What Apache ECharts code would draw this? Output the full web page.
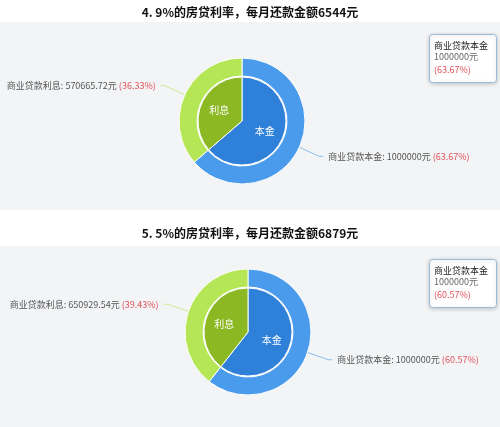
<!DOCTYPE html>
<html><head><meta charset="utf-8">
<script src="https://cdn.jsdelivr.net/npm/echarts@6/dist/echarts.min.js"></script>
<style>html,body{margin:0;padding:0;background:#fff;}#c{width:500px;height:427px;}</style>
</head><body><div id="c"></div>
<script>
const titles = ['4. 9%的房贷利率，每月还款金额6544元', '5. 5%的房贷利率，每月还款金额6879元'];
const innerNames = ['本金', '利息'];
const outerNames = ['商业贷款本金', '商业贷款利息'];
const principal = [1000000, 1000000];
const interest = [570665.72, 650929.54];
const tipPercents = ['63.67%', '60.57%'];

const innerColors = ['#2f80d9', '#8bb823'];
const outerColors = ['#4a9bec', '#b5e655'];

const panels = [
  {titleTop: 1, bgTop: 22, bgH: 188, cx: 242, cy: 121, tipTop: 34},
  {titleTop: 222, bgTop: 246, bgH: 181, cx: 248, cy: 332, tipTop: 259}
];

const series = [];
const graphic = [];
const title = [];
panels.forEach((p, i) => {
  graphic.push({type: 'rect', left: 0, top: p.bgTop, z: -10,
    shape: {width: 500, height: p.bgH}, style: {fill: '#f3f4f6'}});
  title.push({text: titles[i], left: 'center', top: p.titleTop,
    textStyle: {fontSize: 12, fontWeight: 'bold', color: '#111', fontFamily: 'Noto Sans CJK SC'}});
  series.push({
    type: 'pie', center: [p.cx, p.cy], radius: [0, 44], startAngle: 90, clockwise: true,
    silent: true, animation: false,
    itemStyle: {borderColor: '#fff', borderWidth: 1},
    label: {position: 'inside', color: '#fff', fontSize: 10, fontFamily: 'Noto Sans CJK SC', formatter: '{b}'},
    labelLine: {show: false},
    data: [
      {name: innerNames[0], value: principal[i], itemStyle: {color: innerColors[0]}},
      {name: innerNames[1], value: interest[i], itemStyle: {color: innerColors[1]}}
    ]
  });
  series.push({
    type: 'pie', center: [p.cx, p.cy], radius: [45, 63], startAngle: 90, clockwise: true,
    silent: true, animation: false,
    itemStyle: {borderColor: '#fff', borderWidth: 1},
    label: {
      fontSize: 9, fontFamily: 'Noto Sans CJK SC', color: '#555', overflow: 'none', bleedMargin: 2,
      formatter: (d) => '{a|' + d.name + ': ' + d.value + '元} {b|(' + d.percent.toFixed(2) + '%)}',
      rich: {a: {fontSize: 9, color: '#555', fontFamily: 'Noto Sans CJK SC'},
             b: {fontSize: 9, color: '#e0525a', fontFamily: 'Noto Sans CJK SC'}}
    },
    labelLine: {length: 22, length2: 4, lineStyle: {width: 1, opacity: 0.6}},
    data: [
      {name: outerNames[0], value: principal[i], itemStyle: {color: outerColors[0]}},
      {name: outerNames[1], value: interest[i], itemStyle: {color: outerColors[1]}}
    ]
  });
  graphic.push({type: 'rect', left: 429, top: p.tipTop, z: 10,
    shape: {width: 67, height: 48, r: 3},
    style: {fill: '#fff', stroke: '#9dbbd8', lineWidth: 1, shadowBlur: 4, shadowColor: 'rgba(0,0,0,0.2)', shadowOffsetY: 1}});
  graphic.push({type: 'text', left: 434, top: p.tipTop + 7, z: 11,
    style: {text: outerNames[0], fontSize: 9, fill: '#222', fontFamily: 'Noto Sans CJK SC'}});
  graphic.push({type: 'text', left: 434, top: p.tipTop + 18, z: 11,
    style: {text: principal[i] + '元', fontSize: 9, fill: '#666', fontFamily: 'Noto Sans CJK SC'}});
  graphic.push({type: 'text', left: 434, top: p.tipTop + 31, z: 11,
    style: {text: '(' + tipPercents[i] + ')', fontSize: 9, fill: '#e0525a', fontFamily: 'Noto Sans CJK SC'}});
});

const chart = echarts.init(document.getElementById('c'));
chart.setOption({backgroundColor: '#fff', animation: false, title, series, graphic});
</script></body></html>
